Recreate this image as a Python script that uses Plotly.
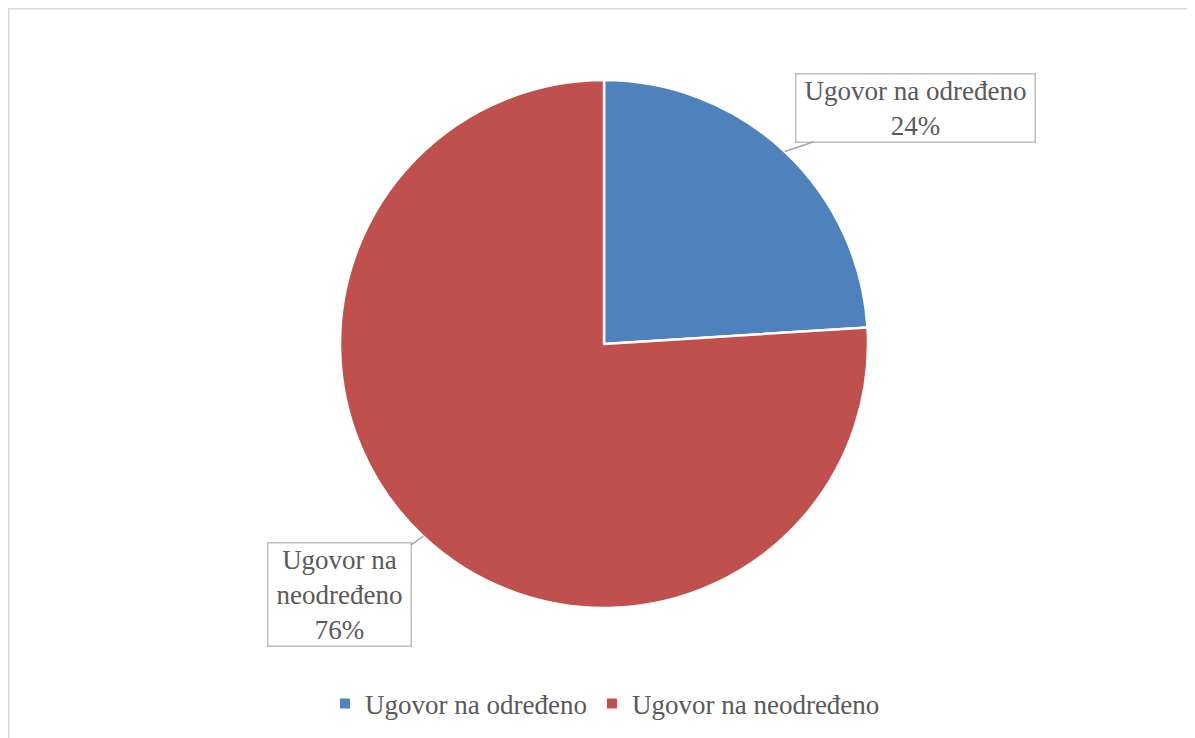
import math
import plotly.graph_objects as go

categories = ["Ugovor na određeno", "Ugovor na neodređeno"]
values = [24, 76]
box_texts = ["Ugovor na određeno<br>24%", "Ugovor na<br>neodređeno<br>76%"]
colors = ["#4F81BD", "#C0504D"]

W, H = 1195, 738
OFF = 8  # page body margin
cx, cy, R = 604 - OFF, 344 - OFF, 264
FONT = "Liberation Serif"
TXT = "#595959"

dom_x = [(cx - R) / W, (cx + R) / W]
dom_y = [1 - (cy + R) / H, 1 - (cy - R) / H]

fig = go.Figure(go.Pie(
    labels=categories, values=values, sort=False, direction="clockwise", rotation=0,
    marker=dict(colors=colors, line=dict(color="white", width=2.5)),
    textinfo="none", hoverinfo="skip", domain=dict(x=dom_x, y=dom_y),
))

# label boxes anchored on slice mid-angles
offsets = [(131, -44, 236), (-84, 58.5, 140)]
total = sum(values)
cum = 0
anns = []
for v, t, (ax, ay, w) in zip(values, box_texts, offsets):
    mid = (cum + v / 2) / total * 2 * math.pi
    cum += v
    px = cx + R * math.sin(mid)
    py = cy - R * math.cos(mid)
    anns.append(dict(
        x=px / W, y=1 - py / H, xref="paper", yref="paper",
        text=t, showarrow=True, arrowhead=0, arrowwidth=1.5, arrowcolor="#A6A6A6",
        ax=ax, ay=ay, axref="pixel", ayref="pixel", standoff=0,
        font=dict(family=FONT, size=27, color=TXT),
        bordercolor="#BFBFBF", borderwidth=1.5, borderpad=1, bgcolor="white",
        width=w, align="center",
    ))

fig.update_layout(
    width=W, height=H, margin=dict(l=0, r=0, t=0, b=0),
    paper_bgcolor="white", plot_bgcolor="white",
    annotations=anns,
    showlegend=True,
    legend=dict(orientation="h", x=(605 - OFF) / W, xanchor="center",
                y=1 - (704 - OFF) / H, yanchor="middle",
                font=dict(family=FONT, size=27, color=TXT), itemsizing="constant",
                traceorder="normal"),
    shapes=[dict(type="rect", xref="paper", yref="paper",
                 x0=0.75 / W, x1=1.01, y0=-0.01, y1=1 - 0.75 / H,
                 line=dict(color="#D9D9D9", width=1.5), layer="below")],
)

fig.write_html("out.html")
